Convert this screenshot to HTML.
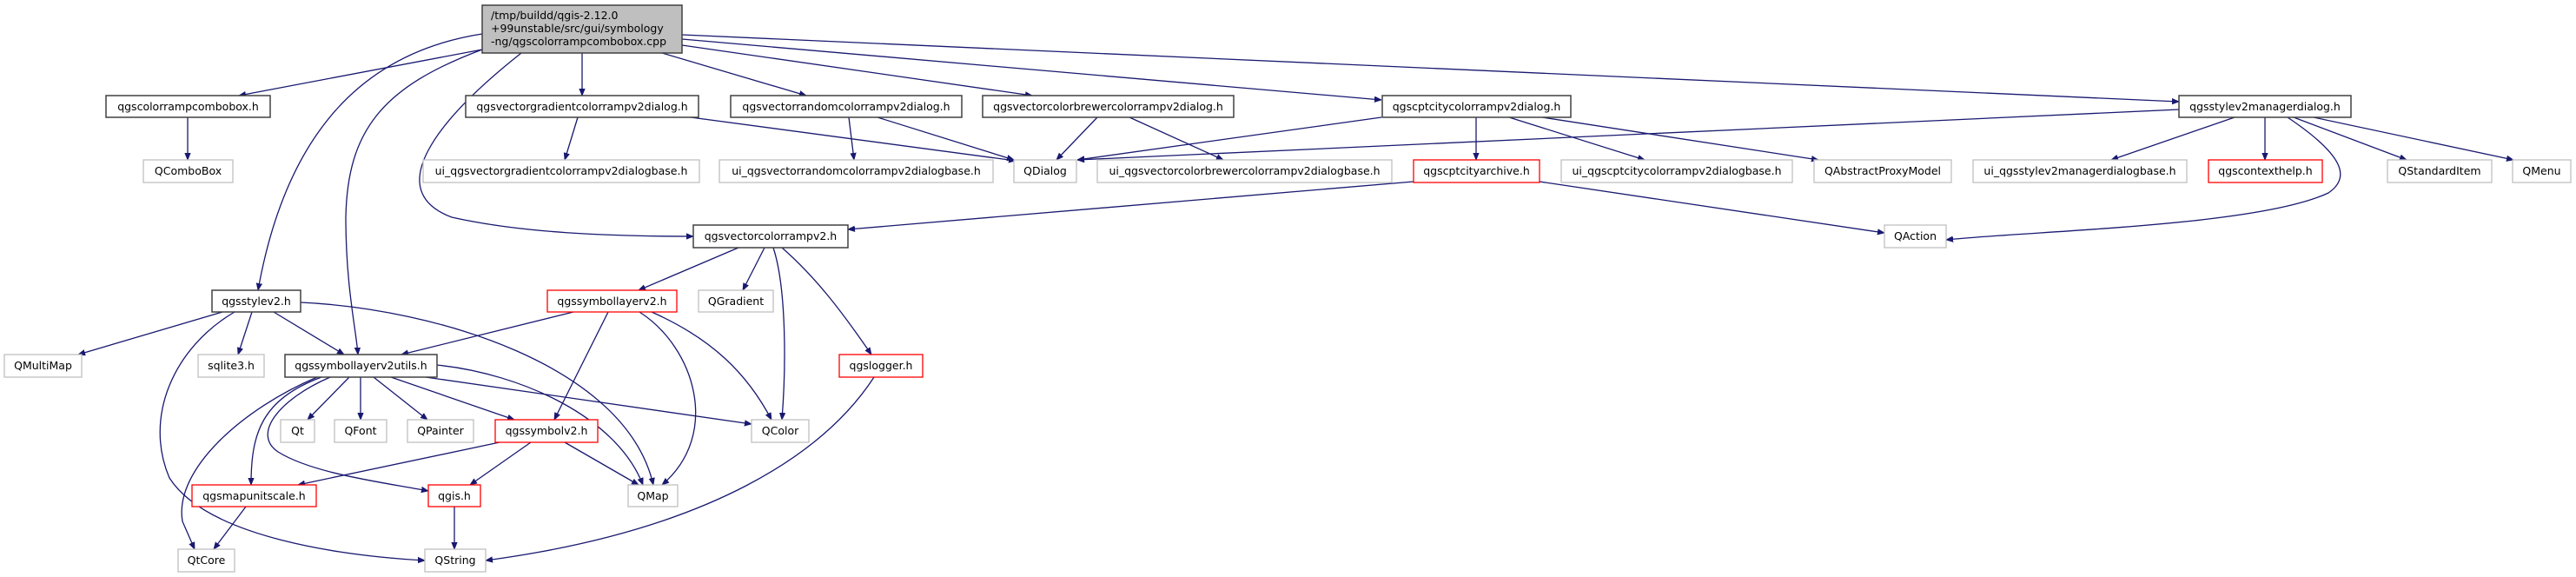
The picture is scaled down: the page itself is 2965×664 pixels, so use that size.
<!DOCTYPE html>
<html><head><meta charset="utf-8"><style>
html,body{margin:0;padding:0;background:#fff;}
svg{display:block;}
text{font-family:"DejaVu Sans","Liberation Sans",sans-serif;font-size:12.5px;fill:#000;}
.e{fill:none;stroke:#191970;stroke-width:1.3;marker-end:url(#a);}
.b{fill:#fff;stroke:#404040;stroke-width:1.5;}
.g{fill:#fff;stroke:#bfbfbf;stroke-width:1.3;}
.r{fill:#fff;stroke:#ff0000;stroke-width:1.3;}
</style></head><body>
<svg width="2965" height="664" viewBox="0 0 2965 664" xmlns="http://www.w3.org/2000/svg">
<defs><marker id="a" viewBox="0 0 10 10" refX="10" refY="5" markerWidth="8" markerHeight="8" markerUnits="userSpaceOnUse" orient="auto"><path d="M0,1 L10,5 L0,9 z" fill="#191970" stroke="#191970"/></marker></defs>

<!-- edges -->
<path class="e" d="M555,57 L275,110"/>
<path class="e" d="M555,39 C420,60 330,150 297,334"/>
<path class="e" d="M555,57 C440,100 400,150 398,250 C398,330 410,380 412,408"/>
<path class="e" d="M600,61 C500,140 440,220 520,250 C600,268 700,272 798,272"/>
<path class="e" d="M670,61 L670,110"/>
<path class="e" d="M762,61 L928,110"/>
<path class="e" d="M785,52 L1188,110"/>
<path class="e" d="M785,45 L1590,115"/>
<path class="e" d="M785,40 L2508,117"/>
<path class="e" d="M216,135 L216,184"/>
<path class="e" d="M665,135 L650,184"/>
<path class="e" d="M795,135 L1169,185"/>
<path class="e" d="M977,135 L983,184"/>
<path class="e" d="M1010,135 L1167,184"/>
<path class="e" d="M1263,135 L1216,184"/>
<path class="e" d="M1300,135 L1408,184"/>
<path class="e" d="M1590,135 L1240,184"/>
<path class="e" d="M1699,135 L1699,184"/>
<path class="e" d="M1737,135 L1893,184"/>
<path class="e" d="M1775,135 L2093,184"/>
<path class="e" d="M2508,126 L1240,184"/>
<path class="e" d="M2572,135 L2430,184"/>
<path class="e" d="M2607,135 L2607,184"/>
<path class="e" d="M2633,135 C2700,180 2705,205 2680,222 C2600,260 2350,265 2240,276"/>
<path class="e" d="M2640,135 L2770,184"/>
<path class="e" d="M2663,135 L2893,184"/>
<path class="e" d="M1772,209 L2169,268"/>
<path class="e" d="M1627,209 L976,264"/>
<path class="e" d="M850,285 L735,334"/>
<path class="e" d="M880,285 L855,334"/>
<path class="e" d="M890,285 C905,330 905,420 900,483"/>
<path class="e" d="M900,285 C940,320 970,360 1003,408"/>
<path class="e" d="M1006,434 C950,520 820,610 559,645"/>
<path class="e" d="M660,359 L462,408"/>
<path class="e" d="M700,359 L638,483"/>
<path class="e" d="M736,359 C800,400 830,500 762,558"/>
<path class="e" d="M750,359 C820,390 860,430 888,483"/>
<path class="e" d="M256,359 L90,408"/>
<path class="e" d="M290,359 L274,408"/>
<path class="e" d="M315,359 L396,408"/>
<path class="e" d="M346,348 C500,355 720,420 752,558"/>
<path class="e" d="M270,359 C200,400 165,480 195,550 C240,620 400,640 489,645"/>
<path class="e" d="M402,434 L354,483"/>
<path class="e" d="M415,434 L415,483"/>
<path class="e" d="M430,434 L492,483"/>
<path class="e" d="M450,434 L592,483"/>
<path class="e" d="M490,434 L865,488"/>
<path class="e" d="M503,420 C600,430 710,480 740,558"/>
<path class="e" d="M380,434 C320,460 290,500 320,520 C360,545 440,555 493,565"/>
<path class="e" d="M370,434 C300,460 289,500 289,558"/>
<path class="e" d="M365,434 C280,470 200,540 210,600 L224,632"/>
<path class="e" d="M575,509 L343,558"/>
<path class="e" d="M611,509 L541,558"/>
<path class="e" d="M650,509 L735,558"/>
<path class="e" d="M523,583 L523,632"/>
<path class="e" d="M283,583 L246,632"/>

<!-- nodes -->
<rect x="555" y="6" width="230" height="55" fill="#bfbfbf" stroke="#404040" stroke-width="1.5"/>
<text x="565" y="22">/tmp/buildd/qgis-2.12.0</text>
<text x="565" y="37">+99unstable/src/gui/symbology</text>
<text x="565" y="52">-ng/qgscolorrampcombobox.cpp</text>

<g text-anchor="middle">
<rect class="b" x="122" y="110" width="189" height="25"/><text x="216.5" y="127">qgscolorrampcombobox.h</text>
<rect class="b" x="536" y="110" width="268" height="25"/><text x="670" y="127">qgsvectorgradientcolorrampv2dialog.h</text>
<rect class="b" x="841" y="110" width="266" height="25"/><text x="974" y="127">qgsvectorrandomcolorrampv2dialog.h</text>
<rect class="b" x="1131" y="110" width="289" height="25"/><text x="1275.5" y="127">qgsvectorcolorbrewercolorrampv2dialog.h</text>
<rect class="b" x="1591" y="110" width="217" height="25"/><text x="1699.5" y="127">qgscptcitycolorrampv2dialog.h</text>
<rect class="b" x="2508" y="110" width="198" height="25"/><text x="2607" y="127">qgsstylev2managerdialog.h</text>

<rect class="g" x="165" y="184" width="103" height="26"/><text x="216.5" y="201">QComboBox</text>
<rect class="g" x="487" y="184" width="318" height="26"/><text x="646" y="201">ui_qgsvectorgradientcolorrampv2dialogbase.h</text>
<rect class="g" x="828" y="184" width="315" height="26"/><text x="985.5" y="201">ui_qgsvectorrandomcolorrampv2dialogbase.h</text>
<rect class="g" x="1167" y="184" width="72" height="26"/><text x="1203" y="201">QDialog</text>
<rect class="g" x="1263" y="184" width="339" height="26"/><text x="1432.5" y="201">ui_qgsvectorcolorbrewercolorrampv2dialogbase.h</text>
<rect class="r" x="1627" y="184" width="145" height="26"/><text x="1699.5" y="201">qgscptcityarchive.h</text>
<rect class="g" x="1797" y="184" width="266" height="26"/><text x="1930" y="201">ui_qgscptcitycolorrampv2dialogbase.h</text>
<rect class="g" x="2088" y="184" width="158" height="26"/><text x="2167" y="201">QAbstractProxyModel</text>
<rect class="g" x="2271" y="184" width="246" height="26"/><text x="2394" y="201">ui_qgsstylev2managerdialogbase.h</text>
<rect class="r" x="2542" y="184" width="131" height="26"/><text x="2607.5" y="201">qgscontexthelp.h</text>
<rect class="g" x="2748" y="184" width="120" height="26"/><text x="2808" y="201">QStandardItem</text>
<rect class="g" x="2892" y="184" width="67" height="26"/><text x="2925.5" y="201">QMenu</text>

<rect class="b" x="798" y="259" width="178" height="26"/><text x="887" y="276">qgsvectorcolorrampv2.h</text>
<rect class="g" x="2169" y="259" width="71" height="26"/><text x="2204.5" y="276">QAction</text>

<rect class="b" x="244" y="334" width="102" height="25"/><text x="295" y="351">qgsstylev2.h</text>
<rect class="r" x="630" y="334" width="149" height="25"/><text x="704.5" y="351">qgssymbollayerv2.h</text>
<rect class="g" x="804" y="334" width="86" height="25"/><text x="847" y="351">QGradient</text>

<rect class="g" x="5" y="408" width="89" height="26"/><text x="49.5" y="425">QMultiMap</text>
<rect class="g" x="228" y="408" width="76" height="26"/><text x="266" y="425">sqlite3.h</text>
<rect class="b" x="328" y="408" width="175" height="26"/><text x="415.5" y="425">qgssymbollayerv2utils.h</text>
<rect class="r" x="966" y="408" width="96" height="26"/><text x="1014" y="425">qgslogger.h</text>

<rect class="g" x="323" y="483" width="39" height="26"/><text x="342.5" y="500">Qt</text>
<rect class="g" x="385" y="483" width="60" height="26"/><text x="415" y="500">QFont</text>
<rect class="g" x="469" y="483" width="76" height="26"/><text x="507" y="500">QPainter</text>
<rect class="r" x="570" y="483" width="118" height="26"/><text x="629" y="500">qgssymbolv2.h</text>
<rect class="g" x="865" y="483" width="66" height="26"/><text x="898" y="500">QColor</text>

<rect class="r" x="221" y="558" width="143" height="25"/><text x="292.5" y="575">qgsmapunitscale.h</text>
<rect class="r" x="493" y="558" width="60" height="25"/><text x="523" y="575">qgis.h</text>
<rect class="g" x="723" y="558" width="57" height="25"/><text x="751.5" y="575">QMap</text>

<rect class="g" x="205" y="632" width="65" height="26"/><text x="237.5" y="649">QtCore</text>
<rect class="g" x="489" y="632" width="70" height="26"/><text x="524" y="649">QString</text>
</g>
</svg>
</body></html>
